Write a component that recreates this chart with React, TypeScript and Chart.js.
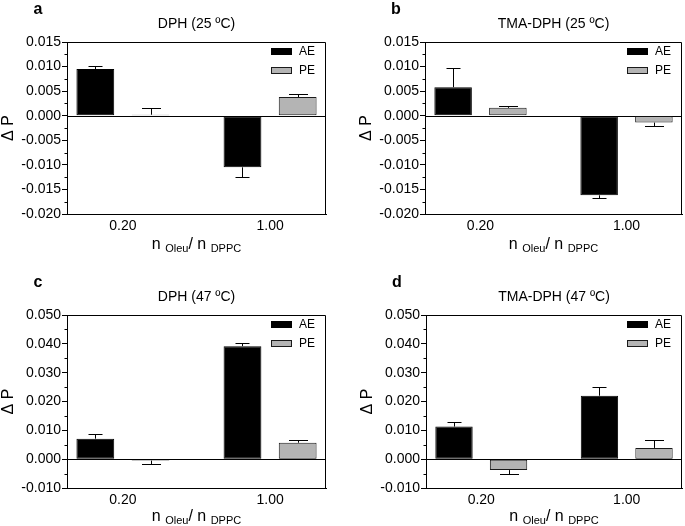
import React, { useEffect, useRef } from 'react';
import { Chart, registerables } from 'chart.js';

Chart.register(...registerables);

const FONT = '"Liberation Sans", Arial, Helvetica, sans-serif';

// ---- data ----
const xLabels = ['0.20', '1.00'];
const seriesNames = ['AE', 'PE'];
const seriesColors = ['#000000', '#b4b4b4'];
const seriesBorders = ['#000000', '#1a1a1a'];

// a: DPH (25 ºC)
const dph25AE = [0.0095, -0.0105];
const dph25AEErr = [0.0006, 0.002];
const dph25PE = [0.0002, 0.0038];
const dph25PEErr = [0.0014, 0.0006];

// b: TMA-DPH (25 ºC)
const tma25AE = [0.0058, -0.0162];
const tma25AEErr = [0.0039, 0.0006];
const tma25PE = [0.0016, -0.0014];
const tma25PEErr = [0.0004, 0.0007];

// c: DPH (47 ºC)
const dph47AE = [0.0071, 0.0392];
const dph47AEErr = [0.0017, 0.0011];
const dph47PE = [-0.0005, 0.0057];
const dph47PEErr = [0.0012, 0.0011];

// d: TMA-DPH (47 ºC)
const tma47AE = [0.0113, 0.022];
const tma47AEErr = [0.0015, 0.003];
const tma47PE = [-0.0038, 0.0039];
const tma47PEErr = [0.0013, 0.0029];

const yTicks25 = [-0.02, -0.015, -0.01, -0.005, 0.0, 0.005, 0.01, 0.015];
const yTicks47 = [-0.01, 0.0, 0.01, 0.02, 0.03, 0.04, 0.05];

const yTitle = 'Δ P';
const xTitleParts = [
  { text: 'n ', sub: false },
  { text: 'Oleu', sub: true },
  { text: '/ n ', sub: false },
  { text: 'DPPC', sub: true },
];

type PanelCfg = {
  letter: string;
  title: string;
  ae: number[];
  aeErr: number[];
  pe: number[];
  peErr: number[];
  yTicks: number[];
  x: number;
  y: number;
  w: number;
  h: number;
  yAxisWidth: number;
  padTop: number;
  padRight: number;
  xAxisHeight: number;
  xTitleOffset: number;
};

const panels: PanelCfg[] = [
  { letter: 'a', title: 'DPH (25 ºC)', ae: dph25AE, aeErr: dph25AEErr, pe: dph25PE, peErr: dph25PEErr, yTicks: yTicks25,
    x: 0, y: 0, w: 342, h: 262, yAxisWidth: 67, padTop: 42, padRight: 16, xAxisHeight: 48, xTitleOffset: 35 },
  { letter: 'b', title: 'TMA-DPH (25 ºC)', ae: tma25AE, aeErr: tma25AEErr, pe: tma25PE, peErr: tma25PEErr, yTicks: yTicks25,
    x: 342, y: 0, w: 343, h: 262, yAxisWidth: 83, padTop: 42, padRight: 3, xAxisHeight: 48, xTitleOffset: 35 },
  { letter: 'c', title: 'DPH (47 ºC)', ae: dph47AE, aeErr: dph47AEErr, pe: dph47PE, peErr: dph47PEErr, yTicks: yTicks47,
    x: 0, y: 262, w: 342, h: 264, yAxisWidth: 67, padTop: 53, padRight: 16, xAxisHeight: 38, xTitleOffset: 33 },
  { letter: 'd', title: 'TMA-DPH (47 ºC)', ae: tma47AE, aeErr: tma47AEErr, pe: tma47PE, peErr: tma47PEErr, yTicks: yTicks47,
    x: 342, y: 262, w: 343, h: 264, yAxisWidth: 84, padTop: 53, padRight: 3, xAxisHeight: 38, xTitleOffset: 33 },
];

const decoPlugin = {
  id: 'panelDeco',
  beforeDatasetsDraw(chart: any) {
    const { ctx, chartArea: ca, scales } = chart;
    const y0 = Math.round(scales.y.getPixelForValue(0)) + 0.5;
    ctx.save();
    ctx.strokeStyle = '#000';
    ctx.lineWidth = 1;
    ctx.beginPath();
    ctx.moveTo(ca.left, y0);
    ctx.lineTo(ca.right, y0);
    ctx.stroke();
    ctx.restore();
  },
  afterDatasetsDraw(chart: any) {
    const { ctx, scales } = chart;
    ctx.save();
    ctx.strokeStyle = '#000';
    ctx.lineWidth = 1;
    chart.data.datasets.forEach((ds: any, di: number) => {
      const meta = chart.getDatasetMeta(di);
      meta.data.forEach((el: any, i: number) => {
        const v = ds.data[i].y;
        const err = ds.errors[i];
        const end = v >= 0 ? v + err : v - err;
        const yEnd = Math.round(scales.y.getPixelForValue(end)) + 0.5;
        const x = Math.round(el.x) + 0.5;
        const half = ds.capWidth / 2;
        ctx.beginPath();
        ctx.moveTo(x, el.y);
        ctx.lineTo(x, yEnd);
        ctx.moveTo(x - half, yEnd);
        ctx.lineTo(x + half, yEnd);
        ctx.stroke();
      });
    });
    ctx.restore();
  },
  afterDraw(chart: any, _args: any, opts: any) {
    const { ctx, chartArea: ca, scales } = chart;
    ctx.save();
    ctx.strokeStyle = '#000';
    ctx.lineWidth = 1;
    // top and right frame
    const t = Math.round(ca.top) + 0.5;
    const r = Math.round(ca.right) - 0.5;
    ctx.beginPath();
    ctx.moveTo(ca.left, t);
    ctx.lineTo(r, t);
    ctx.lineTo(r, ca.bottom);
    ctx.stroke();
    // minor ticks
    const ticks: number[] = opts.yTicks;
    ctx.beginPath();
    for (let i = 0; i < ticks.length - 1; i++) {
      const mid = (ticks[i] + ticks[i + 1]) / 2;
      const py = Math.round(scales.y.getPixelForValue(mid)) + 0.5;
      ctx.moveTo(ca.left - 2.5, py);
      ctx.lineTo(ca.left, py);
    }
    ctx.stroke();

    // legend
    chart.data.datasets.forEach((ds: any, di: number) => {
      const cy = ca.top + 9 + di * 19;
      const bx = Math.round(ca.right - 35 - 20) + 0.5;
      const by = Math.round(cy - 3.5) + 0.5;
      ctx.fillStyle = ds.backgroundColor;
      ctx.fillRect(bx, by, 20, 6);
      ctx.strokeStyle = ds.borderColor;
      ctx.strokeRect(bx, by, 20, 6);
      ctx.fillStyle = '#000';
      ctx.font = `12px ${FONT}`;
      ctx.textAlign = 'left';
      ctx.textBaseline = 'middle';
      ctx.fillText(ds.label, ca.right - 27, cy + 0.5);
    });

    ctx.fillStyle = '#000';
    const cx = (ca.left + ca.right) / 2;
    // panel letter
    ctx.font = `bold 16px ${FONT}`;
    ctx.textAlign = 'center';
    ctx.textBaseline = 'alphabetic';
    ctx.fillText(opts.letter, ca.left - 29, ca.top - 28.5);
    // title
    ctx.font = `14px ${FONT}`;
    ctx.fillText(opts.title, cx, ca.top - 14);
    // y title
    ctx.save();
    ctx.translate(ca.left - 58, (ca.top + ca.bottom) / 2);
    ctx.rotate(-Math.PI / 2);
    ctx.font = `16px ${FONT}`;
    ctx.textBaseline = 'middle';
    ctx.textAlign = 'center';
    ctx.fillText(yTitle, 0, 0);
    ctx.restore();
    // x title with subscripts
    const big = `16px ${FONT}`;
    const small = `11px ${FONT}`;
    let total = 0;
    const widths = xTitleParts.map((p) => {
      ctx.font = p.sub ? small : big;
      const w = ctx.measureText(p.text).width;
      total += w;
      return w;
    });
    let xx = cx - total / 2;
    const base = ca.bottom + opts.xTitleOffset;
    ctx.textAlign = 'left';
    ctx.textBaseline = 'alphabetic';
    xTitleParts.forEach((p, i) => {
      ctx.font = p.sub ? small : big;
      ctx.fillText(p.text, xx, p.sub ? base + 3 : base);
      xx += widths[i];
    });
    ctx.restore();
  },
};

function Panel({ cfg }: { cfg: PanelCfg }) {
  const ref = useRef<HTMLCanvasElement>(null);
  useEffect(() => {
    if (!ref.current) return;
    const values = [cfg.ae, cfg.pe];
    const errs = [cfg.aeErr, cfg.peErr];
    const caps = [14, 19];
    const chart = new Chart(ref.current, {
      type: 'bar',
      data: {
        datasets: seriesNames.map((name, si) => ({
          label: name,
          data: values[si].map((v, i) => ({ x: i, y: v })),
          errors: errs[si],
          capWidth: caps[si],
          backgroundColor: seriesColors[si],
          borderColor: seriesBorders[si],
          borderWidth: 1,
          borderSkipped: false,
          categoryPercentage: 0.75,
          barPercentage: 0.685,
        })) as any,
      },
      options: {
        responsive: false,
        animation: false,
        devicePixelRatio: 1,
        events: [],
        layout: { padding: { left: 0, top: cfg.padTop, right: cfg.padRight, bottom: 0 } },
        plugins: {
          legend: { display: false },
          tooltip: { enabled: false },
          title: { display: false },
          panelDeco: {
            letter: cfg.letter,
            title: cfg.title,
            yTicks: cfg.yTicks,
            xTitleOffset: cfg.xTitleOffset,
          },
        } as any,
        scales: {
          x: {
            type: 'linear',
            min: -0.38,
            max: 1.38,
            offset: false,
            afterBuildTicks: (s: any) => {
              s.ticks = xLabels.map((_, i) => ({ value: i }));
            },
            afterFit: (s: any) => {
              s.height = cfg.xAxisHeight;
            },
            grid: { display: false, drawTicks: false, offset: false },
            border: { display: true, color: '#000', width: 1 },
            ticks: {
              callback: (_v: any, i: number) => xLabels[i],
              font: { family: FONT, size: 14 },
              color: '#000',
              padding: 4,
              maxRotation: 0,
              autoSkip: false,
            },
          },
          y: {
            type: 'linear',
            min: cfg.yTicks[0],
            max: cfg.yTicks[cfg.yTicks.length - 1],
            afterBuildTicks: (s: any) => {
              s.ticks = cfg.yTicks.map((v) => ({ value: v }));
            },
            afterFit: (s: any) => {
              s.width = cfg.yAxisWidth;
            },
            grid: { drawOnChartArea: false, drawTicks: true, tickLength: 5, tickColor: '#000', color: '#000' },
            border: { display: true, color: '#000', width: 1 },
            ticks: {
              callback: (v: any) => Number(v).toFixed(3),
              font: { family: FONT, size: 14 },
              color: '#000',
              padding: 1,
            },
          },
        } as any,
      },
      plugins: [decoPlugin as any],
    });
    return () => chart.destroy();
  }, [cfg]);
  return (
    <canvas
      ref={ref}
      width={cfg.w}
      height={cfg.h}
      style={{ position: 'absolute', left: cfg.x, top: cfg.y, width: cfg.w, height: cfg.h, display: 'block' }}
    />
  );
}

export default function App() {
  return (
    <div style={{ position: 'absolute', left: 0, top: 0, width: 685, height: 526, background: '#fff', overflow: 'hidden' }}>
      {panels.map((p) => (
        <Panel key={p.letter} cfg={p} />
      ))}
    </div>
  );
}
